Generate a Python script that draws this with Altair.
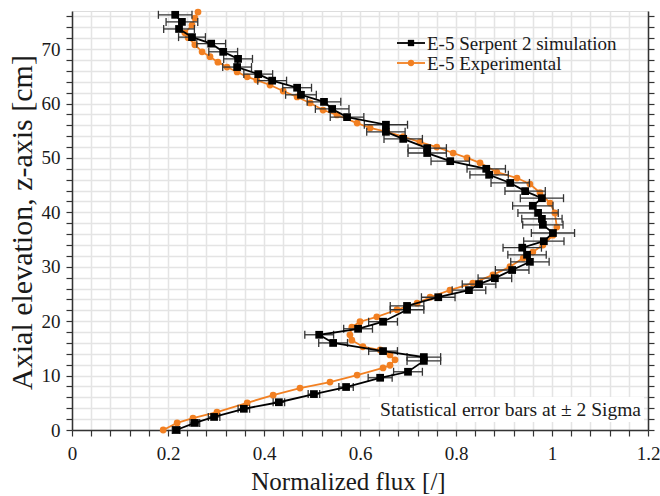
import altair as alt
import pandas as pd

FONT = "Liberation Serif"

# ---- E-5 Serpent 2 simulation (normalized flux, axial elevation cm, 2-sigma half width)
sim_flux = [0.215, 0.229, 0.223, 0.250, 0.290, 0.315, 0.346, 0.344, 0.388, 0.417,
            0.469, 0.477, 0.525, 0.542, 0.573, 0.654, 0.654, 0.690, 0.740, 0.740,
            0.788, 0.863, 0.869, 0.913, 0.944, 0.979, 0.960, 0.971, 0.979, 0.981,
            1.002, 0.983, 0.938, 0.948, 0.954, 0.917, 0.881, 0.848, 0.827, 0.763,
            0.698, 0.698, 0.648, 0.596, 0.515, 0.544, 0.648, 0.733, 0.733, 0.700,
            0.642, 0.571, 0.504, 0.431, 0.358, 0.296, 0.256, 0.217]
sim_z = [76.3, 75.0, 73.7, 72.2, 71.0, 69.5, 68.2, 66.7, 65.4, 64.2,
         62.9, 61.6, 60.3, 59.0, 57.5, 56.1, 54.8, 53.5, 51.8, 50.9,
         49.4, 48.0, 46.9, 45.4, 43.9, 42.6, 41.2, 39.9, 38.8, 37.7,
         36.2, 34.7, 33.5, 32.2, 30.9, 29.4, 27.9, 26.8, 25.7, 24.4,
         22.8, 22.1, 19.9, 18.6, 17.5, 16.0, 14.5, 13.4, 12.7, 10.7,
         9.6, 7.9, 6.6, 5.1, 3.9, 2.4, 1.3, 0.0]
sim_err = [0.035, 0.033, 0.032, 0.028, 0.030, 0.030, 0.030, 0.030, 0.030, 0.030,
           0.030, 0.032, 0.035, 0.035, 0.035, 0.045, 0.040, 0.040, 0.040, 0.040,
           0.040, 0.040, 0.040, 0.040, 0.042, 0.045, 0.042, 0.042, 0.042, 0.042,
           0.045, 0.042, 0.040, 0.040, 0.040, 0.035, 0.035, 0.035, 0.035, 0.035,
           0.035, 0.035, 0.030, 0.030, 0.030, 0.030, 0.030, 0.035, 0.035, 0.030,
           0.025, 0.015, 0.012, 0.012, 0.012, 0.012, 0.010, 0.008]

# ---- E-5 Experimental
exp_flux = [0.2625, 0.256, 0.250, 0.235, 0.242, 0.256, 0.271, 0.2875, 0.304, 0.323,
            0.344, 0.365, 0.385, 0.4125, 0.440, 0.469, 0.496, 0.523, 0.552, 0.594,
            0.621, 0.656, 0.690, 0.725, 0.760, 0.794, 0.823, 0.850, 0.885, 0.927,
            0.954, 0.975, 0.996, 1.006, 1.010, 1.002, 0.981, 0.960, 0.940, 0.9125,
            0.877, 0.835, 0.7875, 0.746, 0.719, 0.677, 0.635, 0.600, 0.583, 0.579,
            0.583, 0.606, 0.642, 0.6625, 0.673, 0.6625, 0.648, 0.594, 0.5375, 0.475,
            0.419, 0.365, 0.302, 0.252, 0.219, 0.190]
exp_z = [76.8, 75.7, 74.4, 73.0, 72.1, 70.8, 69.5, 68.6, 67.6, 66.7,
         65.8, 64.9, 64.3, 63.4, 62.3, 61.2, 60.1, 58.8, 57.9, 56.4,
         55.5, 54.8, 53.9, 52.9, 52.0, 50.9, 50.0, 49.1, 47.4, 46.3,
         45.2, 43.6, 41.7, 39.9, 37.3, 35.8, 34.0, 32.7, 31.6, 30.0,
         28.5, 27.0, 25.7, 24.4, 23.3, 22.1, 20.8, 19.9, 18.9, 17.5,
         16.5, 15.3, 14.7, 13.8, 12.9, 11.9, 11.4, 10.1, 8.8, 7.7,
         6.4, 5.0, 3.3, 2.2, 1.3, 0.0]

x_ticks = [0, 0.04, 0.08, 0.12, 0.16, 0.2, 0.24, 0.28, 0.32, 0.36, 0.4, 0.44, 0.48,
           0.52, 0.56, 0.6, 0.64, 0.68, 0.72, 0.76, 0.8, 0.84, 0.88, 0.92, 0.96,
           1.0, 1.04, 1.08, 1.12, 1.16, 1.2]
y_ticks = [0, 2, 4, 6, 8, 10, 12, 14, 16, 18, 20, 22, 24, 26, 28, 30, 32, 34, 36,
           38, 40, 42, 44, 46, 48, 50, 52, 54, 56, 58, 60, 62, 64, 66, 68, 70, 72,
           74, 76]

legend_labels = ["E-5 Serpent 2 simulation", "E-5 Experimental"]
legend_colors = ["#000000", "#F28022"]
legend_shapes = ["square", "circle"]
note_text = "Statistical error bars at \u00b1 2 Sigma"

W, H = 576, 419

sim = pd.DataFrame({"flux": sim_flux, "z": sim_z, "err": sim_err,
                    "i": list(range(len(sim_flux)))})
sim["lo"] = sim["flux"] - sim["err"]
sim["hi"] = sim["flux"] + sim["err"]
exp = pd.DataFrame({"flux": exp_flux, "z": exp_z, "i": list(range(len(exp_flux)))})

xs = alt.Scale(domain=[0, 1.2], nice=False, zero=False)
ys = alt.Scale(domain=[0, 77], nice=False, zero=False)

x_axis = alt.Axis(
    values=x_ticks,
    labelExpr="(round(datum.value*100) % 20 == 0) ? format(datum.value, '~g') : ''",
    grid=True, gridColor="#e4e4e4", gridWidth=1.5,
    tickSize=6, tickColor="#333333", tickWidth=1.2,
    domainColor="#333333", domainWidth=1.5,
    labelFont=FONT, labelFontSize=19, labelColor="#1a1a1a", labelPadding=8,
    labelOverlap=False, labelFlush=False,
    title="Normalized flux [/]", titleFont=FONT, titleFontSize=25,
    titleFontWeight="normal", titleColor="#1a1a1a",
    titleX=276, titleY=59, titleBaseline="alphabetic", titleAnchor="middle",
)
y_axis = alt.Axis(
    values=y_ticks,
    labelExpr="datum.value % 10 == 0 ? datum.label : ''",
    grid=True, gridColor="#e4e4e4", gridWidth=1.5,
    tickSize=6, tickColor="#333333", tickWidth=1.2,
    domainColor="#333333", domainWidth=1.5,
    labelFont=FONT, labelFontSize=19, labelColor="#1a1a1a", labelPadding=6,
    labelOverlap=False, labelFlush=False,
    title="Axial elevation, z-axis [cm]", titleFont=FONT, titleFontSize=30,
    titleFontWeight="normal", titleColor="#1a1a1a",
    titleX=-50, titleY=211, titleAngle=-90, titleBaseline="middle", titleAnchor="middle",
)
y_axis_right = alt.Axis(
    orient="right", values=y_ticks, labels=False, grid=False, title=None,
    tickSize=6, tickColor="#333333", tickWidth=1.2,
    domainColor="#333333", domainWidth=1.5,
)


def X(field):
    return alt.X(field, scale=xs, axis=x_axis)


def Y(field="z:Q"):
    return alt.Y(field, scale=ys, axis=None)


base_axes = alt.Chart(sim).mark_point(opacity=0).encode(
    x=X("flux:Q"),
    y=alt.Y("z:Q", scale=ys, axis=y_axis),
)
right_axis = alt.Chart(sim).mark_point(opacity=0).encode(
    x=X("flux:Q"),
    y=alt.Y("z:Q", scale=ys, axis=y_axis_right),
)

exp_line = alt.Chart(exp).mark_line(color="#F28022", strokeWidth=1.8).encode(
    x=X("flux:Q"), y=Y(), order="i:Q",
)
exp_pts = alt.Chart(exp).mark_point(filled=True, shape="circle", size=46,
                                     color="#F28022", opacity=1).encode(
    x=X("flux:Q"), y=Y(),
)

err_rule = alt.Chart(sim).mark_rule(color="#333333", strokeWidth=1.3).encode(
    x=X("lo:Q"), x2="hi:Q", y=Y(),
)
cap_lo = alt.Chart(sim).mark_tick(orient="vertical", color="#333333", size=8,
                                  thickness=1.3, opacity=1).encode(
    x=X("lo:Q"), y=Y(),
)
cap_hi = alt.Chart(sim).mark_tick(orient="vertical", color="#333333", size=8,
                                  thickness=1.3, opacity=1).encode(
    x=X("hi:Q"), y=Y(),
)

sim_line = alt.Chart(sim).mark_line(color="#000000", strokeWidth=1.8).encode(
    x=X("flux:Q"), y=Y(), order="i:Q",
)
sim_pts = alt.Chart(sim).mark_point(filled=True, shape="square", size=60,
                                     color="#000000", opacity=1).encode(
    x=X("flux:Q"), y=Y(),
)

# ---- legend (manual, line + marker symbols)
leg = pd.DataFrame({"label": legend_labels, "color": legend_colors,
                    "shape": legend_shapes, "row": [0, 1]})
leg["py"] = 32 + leg["row"] * 20
leg_line = alt.Chart(leg).mark_rule(strokeWidth=1.8).encode(
    x=alt.value(325), x2=alt.value(353),
    y=alt.Y("py:Q", scale=None, axis=None),
    color=alt.Color("color:N", scale=None, legend=None),
)
leg_pts = alt.Chart(leg).mark_point(filled=True, size=40, opacity=1).encode(
    x=alt.value(339),
    y=alt.Y("py:Q", scale=None, axis=None),
    color=alt.Color("color:N", scale=None, legend=None),
    shape=alt.Shape("shape:N", scale=None, legend=None),
)
leg_txt = alt.Chart(leg).mark_text(align="left", baseline="middle", font=FONT,
                                   fontSize=19, color="#1a1a1a", dy=1).encode(
    x=alt.value(355),
    y=alt.Y("py:Q", scale=None, axis=None),
    text="label:N",
)

# ---- note
note = pd.DataFrame({"text": [note_text]})
note_bg = alt.Chart(note).mark_rect(color="white", opacity=1).encode(
    x=alt.value(298), x2=alt.value(572), y=alt.value(386), y2=alt.value(411),
)
note_txt = alt.Chart(note).mark_text(align="right", baseline="middle", font=FONT,
                                     fontSize=19.5, color="#1a1a1a").encode(
    x=alt.value(569), y=alt.value(399), text="text:N",
)

chart = alt.layer(
    base_axes, right_axis, exp_line, exp_pts, err_rule, cap_lo, cap_hi,
    sim_line, sim_pts, note_bg, note_txt, leg_line, leg_pts, leg_txt,
).resolve_axis(y="independent").properties(
    width=W, height=H,
    autosize=alt.AutoSizeParams(type="none"),
    padding={"left": 72, "top": 11, "right": 12, "bottom": 66},
).configure_view(stroke="#333333", strokeWidth=1.5).configure(background="white")

chart.save("out.html", embed_options={"renderer": "svg", "actions": False})
